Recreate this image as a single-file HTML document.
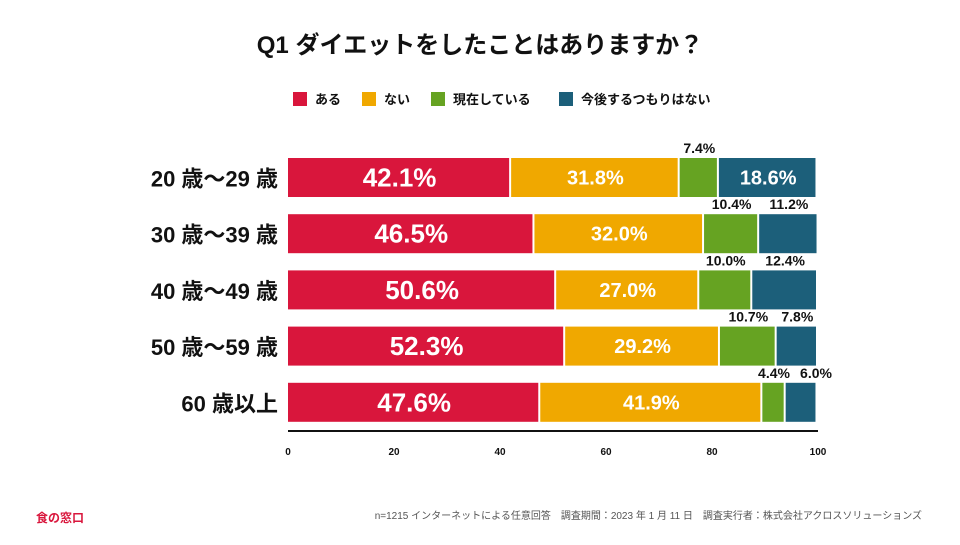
<!DOCTYPE html>
<html><head><meta charset="utf-8"><style>
body{margin:0;background:#fff;width:960px;height:540px;overflow:hidden;font-family:"Liberation Sans","Noto Sans CJK JP",sans-serif}
svg text{font-family:"Liberation Sans","Noto Sans CJK JP",sans-serif}
</style></head><body>
<svg id="c" width="960" height="540">
<text x="480" y="53" text-anchor="middle" font-size="24" font-weight="bold" fill="#111">Q1 ダイエットをしたことはありますか？</text>
<g id="legend"></g>
<g id="bars"></g>
<g id="axis"></g>
<text x="36" y="522" font-size="12" font-weight="bold" fill="#d9163c">食の窓口</text>
<text x="922" y="519" text-anchor="end" font-size="10" fill="#555">n=1215 インターネットによる任意回答　調査期間：2023 年 1 月 11 日　調査実行者：株式会社アクロスソリューションズ</text>
</svg>
<script>
const categories=["20 歳〜29 歳","30 歳〜39 歳","40 歳〜49 歳","50 歳〜59 歳","60 歳以上"];
const seriesNames=["ある","ない","現在している","今後するつもりはない"];
const aru=[42.1,46.5,50.6,52.3,47.6];
const nai=[31.8,32.0,27.0,29.2,41.9];
const genzai=[7.4,10.4,10.0,10.7,4.4];
const kongo=[18.6,11.2,12.4,7.8,6.0];
const ticks=[0,20,40,60,80,100];
const colors=["#d9163c","#f0a800","#66a322","#1c5f7a"];
const series=[aru,nai,genzai,kongo];
const NS="http://www.w3.org/2000/svg";
const x0=288,x1=818;
const xs=v=>x0+(x1-x0)*v/100;
const yTop=i=>158+i*56.2, bh=39;
function mk(t,a,p){const e=document.createElementNS(NS,t);for(const k in a)e.setAttribute(k,a[k]);p.appendChild(e);return e;}
const lg=document.getElementById('legend');
const lx=[293,362,431,559];
seriesNames.forEach((n,i)=>{
 const r=mk('rect',{x:lx[i],y:92,width:14,height:14,fill:colors[i]},lg);
 
 
 const t=mk('text',{x:lx[i]+22,y:104,'font-size':13,'font-weight':'bold',fill:'#111'},lg);
 t.textContent=n;
 
 
});
const bg=document.getElementById('bars');
categories.forEach((c,i)=>{
 const y=yTop(i);
 const lab=mk('text',{x:278,y:y+bh/2+9,'text-anchor':'end','font-size':22,'font-weight':'bold',fill:'#111'},bg);
 lab.textContent=c;
 
 
 let cum=0, prevX=-999;
 series.forEach((s,j)=>{
  const v=s[i];
  const xa=xs(cum),xb=xs(cum+v);
  const r=mk('rect',{x:xa,y:y,width:Math.max(0,xb-xa-2),height:bh,fill:colors[j]},bg);
  
  
  const t=mk('text',{},bg);
  
  
  t.setAttribute('font-weight','bold');
  t.textContent=v.toFixed(1)+'%';
  if(v>15){
   t.setAttribute('x',(xa+xb)/2);t.setAttribute('y',y+bh/2+(j==0?9:7));
   t.setAttribute('text-anchor','middle');t.setAttribute('font-size',j==0?26:20);t.setAttribute('fill','#fff');
  }else{
   let cx=(xa+xb)/2; cx=Math.max(cx,prevX+42); prevX=cx;
   t.setAttribute('x',cx);t.setAttribute('y',y-5);
   t.setAttribute('text-anchor','middle');t.setAttribute('font-size',14);t.setAttribute('fill','#111');
  }
  cum+=v;
 });
});
const ax=document.getElementById('axis');
const al=mk('line',{x1:x0,x2:x1,y1:431,y2:431,stroke:'#111','stroke-width':2},ax);


ticks.forEach(v=>{
 const t=mk('text',{x:xs(v),y:455,'text-anchor':'middle','font-size':10,'font-weight':'bold',fill:'#111'},ax);
 t.textContent=v;
 
 
});
</script>
</body></html>
